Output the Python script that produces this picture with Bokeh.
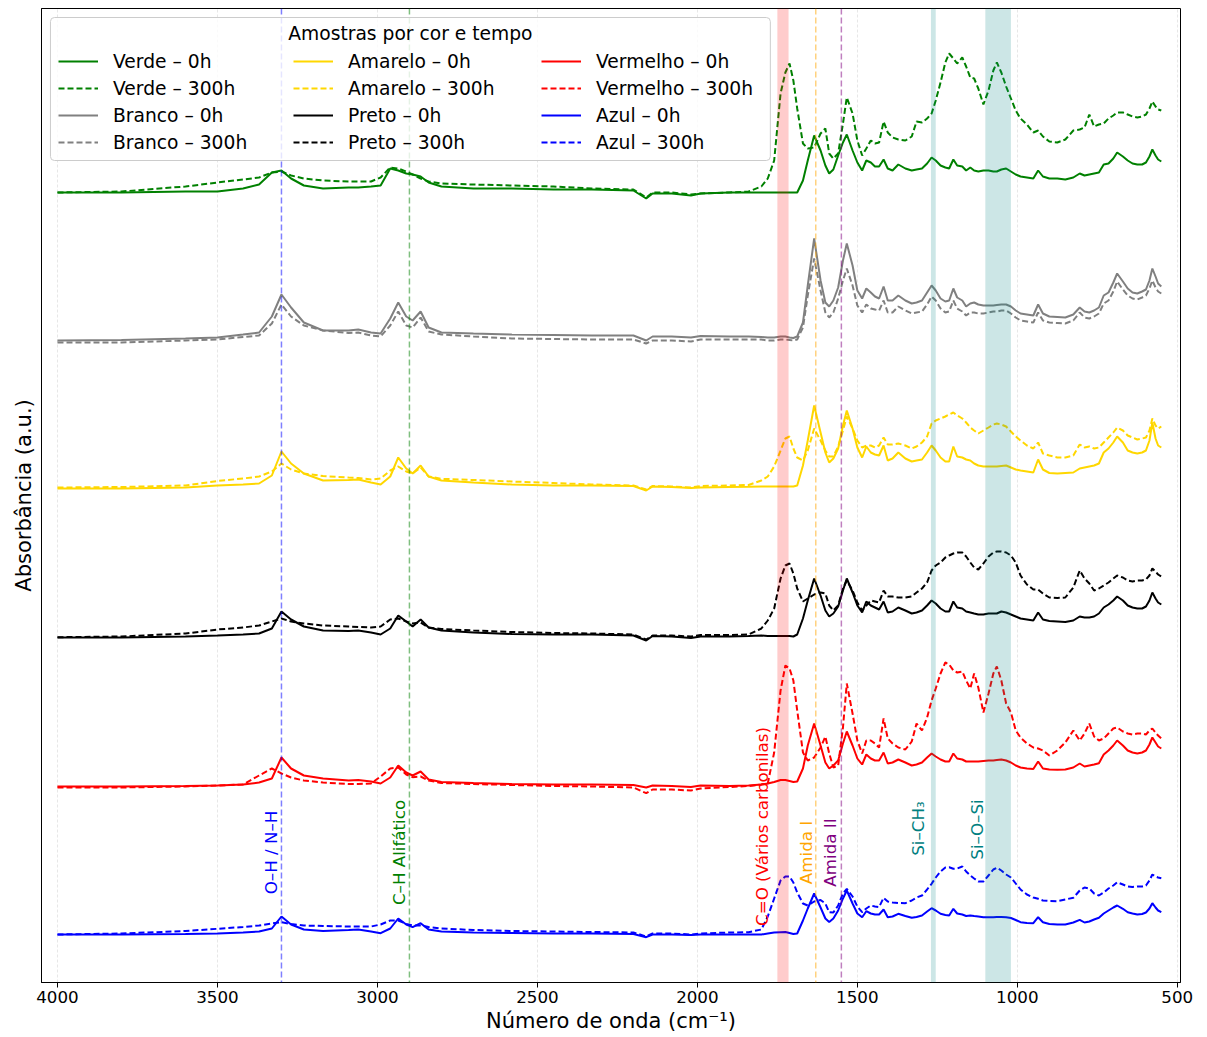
from math import pi
from bokeh.plotting import figure
from bokeh.models import (Range1d, Span, BoxAnnotation, Legend, LegendItem, Label,
                          FixedTicker, ColumnDataSource)
from bokeh.core.properties import value
from bokeh.embed import file_html
from bokeh.resources import INLINE

FONT = "DejaVu Sans"

# ---------------- data ----------------
WAVENUMBER = [
    4000, 3800, 3600, 3500, 3420, 3370, 3330, 3300, 3270, 3230,
    3170, 3090, 3060, 3020, 2990, 2960, 2935, 2910, 2890, 2865,
    2840, 2800, 2700, 2580, 2450, 2330, 2200, 2160, 2140, 2080,
    2020, 1990, 1900, 1840, 1800,
    1780, 1760, 1740, 1725, 1712, 1700, 1688, 1670, 1655, 1635,
    1615, 1600, 1588, 1575, 1560, 1545, 1533, 1515, 1500, 1485,
    1472, 1458, 1445, 1432, 1418, 1405, 1390, 1372, 1350, 1330,
    1315, 1298, 1282, 1268, 1255, 1240, 1225, 1213, 1200, 1188,
    1172, 1160, 1147, 1135, 1122, 1106, 1090, 1075, 1064, 1050,
    1035, 1020, 1005, 990, 970, 950, 935, 920, 900, 875,
    850, 825, 805, 790, 775, 760, 745, 730, 715, 700,
    688, 670, 655, 640, 625, 610, 598, 587, 578, 568,
    560, 550]

VERDE_0H = [
    2, 2, 3, 3, 6, 10, 22, 24, 16, 9,
    6, 7, 7, 8, 9, 26, 24, 21, 20, 18,
    12, 8, 6, 6, 5, 5, 4, -4, 1, 1,
    -1, 1, 2, 2, 2,
    2, 2, 2, 2, 2, 2, 2, 14, 34, 59,
    44, 29, 21, 25, 39, 52, 60, 44, 32, 24,
    34, 32, 28, 28, 35, 26, 24, 30, 26, 24,
    25, 26, 31, 37, 34, 29, 27, 26, 35, 29,
    28, 24, 27, 24, 23, 24, 24, 23, 23, 25,
    26, 23, 20, 18, 17, 16, 24, 18, 16, 16,
    15, 17, 21, 19, 20, 21, 22, 30, 31, 36,
    42, 38, 34, 31, 30, 30, 32, 38, 45, 39,
    35, 33]
VERDE_300H = [
    2, 3, 8, 12, 15, 17, 22, 23, 19, 16,
    14, 13, 13, 13, 17, 27, 26, 23, 20, 16,
    13, 11, 10, 9, 8, 6, 5, -3, 2, 2,
    0, 1, 2, 3, 8,
    16, 34, 101, 122, 131, 114, 86, 51, 46, 47,
    61, 66, 41, 36, 41, 71, 97, 81, 54, 39,
    46, 54, 51, 52, 73, 62, 57, 55, 54, 58,
    73, 72, 76, 81, 94, 112, 132, 141, 136, 131,
    137, 128, 117, 116, 106, 90, 104, 124, 132, 122,
    108, 96, 84, 76, 70, 62, 64, 58, 53, 52,
    55, 64, 65, 67, 80, 68, 70, 71, 76, 79,
    82, 82, 80, 78, 77, 78, 80, 86, 93, 88,
    85, 84]

BRANCO_0H = [
    2, 2.5, 4, 5, 8, 10, 26, 48, 35, 20,
    12, 12, 13, 10, 9, 24, 40, 26, 22, 31,
    15, 10, 9, 8, 7.5, 7, 7, 2, 6, 6,
    5, 6.5, 6, 6, 5.5,
    5, 5, 6, 6, 5, 4.5, 6, 20, 57, 104,
    62, 40, 36, 42, 55, 82, 99, 77, 52, 44,
    54, 50, 46, 44, 56, 42, 42, 47, 42, 39,
    40, 42, 50, 57, 52, 44, 41, 42, 54, 45,
    42, 36, 39, 40, 38, 37, 37, 37, 37.5, 38,
    38, 36, 32, 29, 28, 27, 38, 29, 26, 25.5,
    25, 28, 35, 31, 30, 32, 35, 47, 50, 60,
    69, 61, 54, 50, 49, 51, 53, 62, 74, 66,
    59, 56]
BRANCO_300H = [
    0, 0, 2, 3, 5.5, 7, 19, 38, 26, 17,
    12, 9.5, 10, 7, 6, 17, 31, 17, 15, 25,
    11, 8, 6, 4, 3.5, 3, 3, -1, 2, 2,
    1, 3, 3, 3, 3,
    2, 2, 3, 3, 2.5, 2, 3, 15, 47, 84,
    52, 30, 25, 30, 44, 62, 74, 57, 37, 30,
    38, 34, 33, 32, 42, 30, 30, 36, 32, 29,
    30, 31, 38, 46, 42, 34, 30, 31, 42, 34,
    31, 27, 30, 30, 29, 29, 30, 31, 31, 32,
    32, 29, 25, 22, 21, 20, 30, 22, 20, 19.5,
    19, 22, 30, 25, 24, 26, 29, 39, 42, 51,
    61, 53, 47, 44, 43, 45, 47, 54, 62, 55,
    51, 49]

AMARELO_0H = [
    2, 2, 3, 5, 6, 7, 15, 39, 27, 17,
    10, 10.5, 11, 8, 6, 14, 33, 22, 17, 25,
    14, 10, 8, 6, 5, 5, 4.5, 0, 4, 3.5,
    2.5, 3, 3.5, 3.7, 4,
    4, 4, 4, 4, 4, 4, 5, 25, 50, 85,
    58, 38, 28, 32, 42, 65, 80, 62, 43, 33,
    44, 38, 36, 35, 45, 30, 32, 38, 32, 29,
    30, 31, 38, 45, 40, 33, 29, 29, 44, 34,
    33, 31, 30, 27, 25, 24, 24, 24, 24, 24.5,
    25, 23, 21, 20, 19, 18, 31, 21, 17.5, 17,
    17.5, 18, 22, 23, 24, 25, 27, 38, 42, 48,
    54, 48, 40, 38, 37, 38, 40, 50, 68, 52,
    45, 43]
AMARELO_300H = [
    3, 3.5, 5, 9.5, 12, 14, 19, 27, 21, 17,
    14.5, 13, 12.5, 11, 12, 20, 24, 19, 17, 23,
    14, 11.7, 10.5, 9, 7.5, 6, 5, 1, 4.5, 4,
    3, 4.5, 5, 5.5, 10,
    14, 24, 40, 52, 54, 42, 33, 30, 40, 62,
    50, 40, 34, 34, 44, 60, 74, 62, 50, 43,
    45, 45, 43, 45, 53, 46, 46, 47, 45, 42,
    44, 48, 54, 67, 70, 72, 74, 76, 78, 75,
    72, 68, 63, 60, 57, 60, 63, 66, 67, 66,
    64, 59, 54, 50, 45, 42, 48, 37, 35, 33,
    33, 35, 46, 43, 44, 42, 43, 48, 53, 58,
    63, 60, 55, 53, 51, 52, 53, 60, 72, 65,
    62, 64]

PRETO_0H = [
    1, 1, 2, 3, 4, 5, 10, 27, 19, 12,
    8, 7.5, 8, 6, 4, 10, 23, 17, 12, 19,
    11, 8, 6, 4.5, 4, 4, 3, -2, 2.5, 2,
    0.5, 2, 2, 2.5, 3,
    2.5, 2.5, 2.5, 2.5, 2.5, 2, 4, 20, 38, 60,
    43, 28, 22, 25, 32, 48, 60, 46, 33, 26,
    37, 33, 31, 29, 37, 26, 27, 31, 28, 25,
    26, 28, 33, 38, 35, 30, 27, 27, 37, 31,
    30, 27, 26, 25, 24, 24, 25, 25, 25, 27,
    26, 24, 22, 20, 19, 18, 26, 19, 17.5, 17,
    16.5, 18, 22, 21, 21, 22, 25, 31, 34, 38,
    42, 38, 33, 31, 30, 30, 32, 38, 46, 40,
    36, 34]
PRETO_300H = [
    1.3, 2, 5, 9, 11, 13, 17, 20, 17, 15,
    13, 12, 11.5, 11, 12, 19, 20, 17, 15, 16,
    11, 9.5, 8, 6.5, 5.5, 5, 4, -1, 3, 3,
    2, 3.5, 3.5, 4, 10,
    18, 30, 60, 73, 75, 65, 50, 37, 40, 44,
    46, 45, 33, 28, 33, 50, 58, 48, 36, 28,
    33, 38, 37, 36, 48, 42, 42, 41, 41, 42,
    46, 50, 56, 68, 73, 76, 81, 83, 85, 86,
    86, 82, 76, 71, 69, 75, 82, 86, 87, 87,
    86, 83, 76, 63, 54, 49, 49, 45, 41, 40.5,
    41, 51, 68, 60, 55, 48, 50, 53, 56, 60,
    63, 61, 58, 57, 58, 58, 59, 63, 70, 67,
    64, 62]

VERMELHO_0H = [
    0, 0, 0.5, 1, 2, 4, 8, 29, 18, 11,
    8, 6, 6.5, 5, 3, 9, 21, 14, 11, 15,
    7, 4.5, 3.5, 2.5, 2, 2, 1.5, -1, 1, 0.5,
    -0.5, 1, 0.5, 1, 2,
    3, 4.5, 6.5, 6.5, 5.5, 4.5, 5, 18, 41, 63,
    41, 24, 18, 21, 26, 43, 55, 41, 28, 22,
    32, 28, 26, 26, 34, 23, 24, 27, 24, 21,
    22, 24, 29, 33, 30, 27, 25, 25, 33, 28,
    27, 25, 25, 25, 25, 25.5, 26, 26, 26.5, 27,
    26, 24, 21, 19, 18, 17.5, 25, 18, 17, 16.7,
    17, 19, 23, 20, 21, 22, 23.3, 32, 36, 41,
    46, 41, 36, 34, 33, 34, 36, 42, 49, 44,
    40, 38]
VERMELHO_300H = [
    -1, -1, 0, 1, 2, 11, 18, 13, 9, 6,
    4, 2.5, 2.5, 3, 10, 18, 19, 12, 9.3, 10,
    6, 3.5, 2.5, 1.5, 0.5, 0, -1, -6.7, -3, -3,
    -4, -2, -0.5, 0.5, 2,
    3, 34, 96, 121, 118, 106, 76, 34, 26, 29,
    39, 50, 33, 19, 21, 59, 103, 73, 46, 33,
    46, 46, 43, 39, 68, 48, 43, 39, 37, 45,
    63, 56, 69, 86, 98, 113, 124, 122, 116, 114,
    115, 106, 98, 113, 99, 74, 93, 113, 120, 106,
    83, 74, 56, 49, 43, 39, 38, 36, 31, 36,
    44, 56, 46, 53, 63, 50, 46, 48, 53, 58,
    59, 55, 53, 52, 53, 53, 52, 56, 58, 54,
    51, 48]

AZUL_0H = [
    0, 0, 0.5, 1, 2, 3, 6, 18, 10, 5,
    3.5, 4.5, 5, 3, 1.3, 6, 16, 10, 7.3, 11.3,
    5, 3, 2, 1.5, 1, 1, 0.5, -2.7, 0, 0,
    -0.5, 0, 0, 0, 0,
    1, 2, 2.3, 2.5, 1.5, 0.5, 1, 14, 26, 41,
    27, 16, 12.5, 16, 24, 36, 44, 31, 21, 17.3,
    23.3, 21, 20, 20, 25, 17.3, 18, 20.7, 18.5, 16.7,
    17.5, 19, 23, 26.3, 24, 20.7, 19.5, 19, 25.7, 21,
    20, 18.5, 19, 18.5, 18, 17.3, 17.3, 17.3, 17.5, 17.5,
    17.3, 16.5, 14.5, 12.3, 11.5, 11.3, 17.3, 12.3, 10.5, 10,
    10, 12, 14.7, 12, 13, 15, 16.7, 21, 24, 27,
    29, 25.7, 22.3, 21, 20, 20.5, 22, 26, 31.3, 27,
    24, 22.3]
AZUL_300H = [
    0, 1, 3.5, 5.7, 7.5, 9, 11, 12.3, 10.5, 9,
    8.5, 8, 8, 8, 10, 14, 14, 10.5, 9, 9,
    7.5, 6, 4.5, 3.5, 3, 2.5, 2, -2, 1, 1,
    0, 1, 2, 2.3, 5,
    18, 36, 54, 58, 58, 52, 42, 31, 29, 33,
    34.5, 31, 22.3, 22, 29, 41, 45.7, 38, 28, 22.3,
    26, 29, 28, 27.5, 36.7, 33, 32, 31.5, 31.3, 34,
    37, 39, 45, 50.7, 57, 63, 67, 67.3, 65.7, 66,
    68, 63, 59, 56, 53, 53, 59, 65, 66.7, 64,
    60, 57, 51, 45, 40, 37, 35.7, 34, 33.5, 33.3,
    35, 36.7, 44, 47, 46, 41, 39, 42, 46, 49,
    52.3, 50, 48, 47.5, 48, 48, 49, 54, 60, 58,
    57, 56.3]

SAMPLES = ["Verde", "Branco", "Amarelo", "Preto", "Vermelho", "Azul"]
COLORS = ["green", "gray", "gold", "black", "red", "blue"]
SPECTRA_0H = [VERDE_0H, BRANCO_0H, AMARELO_0H, PRETO_0H, VERMELHO_0H, AZUL_0H]
SPECTRA_300H = [VERDE_300H, BRANCO_300H, AMARELO_300H, PRETO_300H, VERMELHO_300H, AZUL_300H]
STACK_LEVEL = [5, 4, 3, 2, 1, 0]
STACK_STEP = 148

XTICKS = [4000, 3500, 3000, 2500, 2000, 1500, 1000, 500]

MARKER_LINES = [(3300, "blue"), (2900, "green"), (1630, "orange"), (1550, "purple")]
BANDS = [(1750, 1715, "red"), (1270, 1255, "teal"), (1100, 1020, "teal")]

ANN_TEXT = ["O–H / N–H", "C–H Alifático", "C=O (Vários carbonilas)", "Amida I",
            "Amida II", "Si–CH₃", "Si–O–Si"]
ANN_X = [3334, 2934, 1797, 1662, 1584, 1309, 1125]
ANN_Y = [82, 82, 108, 82, 82, 106, 105]
ANN_COLOR = ["blue", "green", "red", "orange", "purple", "teal", "teal"]

LEGEND_TITLE = "Amostras por cor e tempo"

for arr in SPECTRA_0H + SPECTRA_300H:
    assert len(arr) == len(WAVENUMBER), len(arr)

DASH = "6 3"

# ---------------- figure ----------------
p = figure(width=1207, height=1037, output_backend="svg", toolbar_location=None,
           title=None,
           x_range=Range1d(4050, 490), y_range=Range1d(-48, 926),
           min_border_left=41, min_border_right=27, min_border_top=8,
           min_border_bottom=55)
p.outline_line_color = "black"
p.outline_line_width = 1
p.background_fill_color = "white"
p.border_fill_color = "white"

# grid
p.xgrid.ticker = FixedTicker(ticks=XTICKS)
p.xgrid.grid_line_color = "#b0b0b0"
p.xgrid.grid_line_alpha = 0.3
p.xgrid.grid_line_dash = "3 2"
p.xgrid.grid_line_width = 1
p.ygrid.visible = False

# axes
p.xaxis.ticker = FixedTicker(ticks=XTICKS)
p.xaxis.axis_label = "Número de onda (cm⁻¹)"
p.xaxis.axis_label_text_font = FONT
p.xaxis.axis_label_text_font_size = "21px"
p.xaxis.axis_label_text_font_style = "normal"
p.xaxis.axis_label_text_color = "black"
p.xaxis.axis_label_standoff = 3
p.xaxis.major_label_text_font = FONT
p.xaxis.major_label_text_font_size = "16.7px"
p.xaxis.major_label_text_color = "black"
p.xaxis.major_label_standoff = 3
p.xaxis.major_tick_out = 5
p.xaxis.major_tick_in = 0
p.xaxis.minor_tick_line_color = None
p.xaxis.axis_line_color = "black"
p.xaxis.major_tick_line_color = "black"

p.yaxis.ticker = FixedTicker(ticks=[])
p.yaxis.axis_label = "Absorbância (a.u.)"
p.yaxis.axis_label_text_font = FONT
p.yaxis.axis_label_text_font_size = "21px"
p.yaxis.axis_label_text_font_style = "normal"
p.yaxis.axis_label_text_color = "black"
p.yaxis.axis_label_standoff = 6
p.yaxis.major_tick_out = 0
p.yaxis.major_tick_in = 0
p.yaxis.minor_tick_line_color = None
p.yaxis.major_label_text_font_size = "0px"
p.yaxis.axis_line_color = "black"

# spectra
items_by_sample = []
for name, color, s0, s300, lvl in zip(SAMPLES, COLORS, SPECTRA_0H, SPECTRA_300H, STACK_LEVEL):
    off = lvl * STACK_STEP
    src = ColumnDataSource(dict(x=WAVENUMBER,
                                y0=[v + off for v in s0],
                                y300=[v + off for v in s300]))
    r0 = p.line("x", "y0", source=src, line_color=color, line_width=2)
    r3 = p.line("x", "y300", source=src, line_color=color, line_width=2,
                line_dash=DASH)
    items_by_sample.append((LegendItem(label=f"{name} – 0h", renderers=[r0]),
                            LegendItem(label=f"{name} – 300h", renderers=[r3])))

# reference bands and lines
for left, right, color in BANDS:
    p.add_layout(BoxAnnotation(left=left, right=right, fill_color=color,
                               fill_alpha=0.2, line_color=None))
for loc, color in MARKER_LINES:
    p.add_layout(Span(location=loc, dimension="height", line_color=color,
                      line_alpha=0.5, line_width=1.5, line_dash=DASH))

# rotated annotations
ann_src = ColumnDataSource(dict(x=ANN_X, y=ANN_Y, text=ANN_TEXT, color=ANN_COLOR))
p.text(x="x", y="y", text="text", source=ann_src, angle=pi / 2,
       text_align="center", text_baseline="middle", text_color="color",
       text_font=value(FONT), text_font_size="16.7px")

# legend frame (semi-transparent white box with light border)
legend_box = BoxAnnotation(left=4022, right=1772, top=917, bottom=774,
                           fill_color="white", fill_alpha=0.8,
                           line_color="#cccccc", line_width=1, line_alpha=1.0,
                           border_radius=4)
p.add_layout(legend_box)

title_lbl = Label(x=2897, y=901, text=LEGEND_TITLE,
                  text_align="center", text_baseline="middle",
                  text_font=FONT, text_font_size="18.7px", text_color="black")
p.add_layout(title_lbl)

# legend: three columns (Verde/Branco | Amarelo/Preto | Vermelho/Azul)
COLUMN_X = [17, 252, 500]
for col, (a, b) in enumerate([(0, 1), (2, 3), (4, 5)]):
    col_items = [items_by_sample[a][0], items_by_sample[a][1],
                 items_by_sample[b][0], items_by_sample[b][1]]
    lg = Legend(items=col_items, location=(COLUMN_X[col], 829), orientation="vertical")
    lg.label_text_font = FONT
    lg.label_text_font_size = "18.7px"
    lg.label_text_color = "black"
    lg.glyph_width = 40
    lg.glyph_height = 22
    lg.label_height = 22
    lg.label_standoff = 15
    lg.spacing = 5
    lg.padding = 0
    lg.margin = 0
    lg.border_line_color = None
    lg.background_fill_alpha = 0.0
    p.add_layout(lg)

open("out.html", "w").write(file_html(p, INLINE))
